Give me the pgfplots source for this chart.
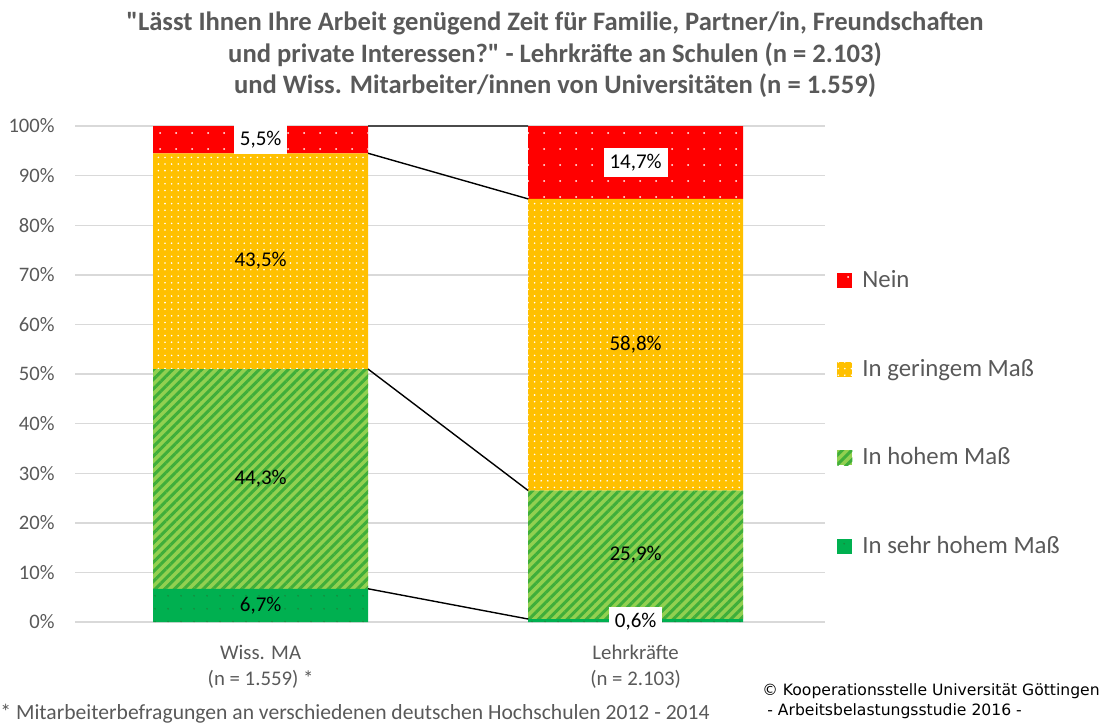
\documentclass[border=0pt]{standalone}
\usepackage{pgfplots}
\pgfplotsset{compat=1.18}
\usepackage{fontspec}
\setmainfont{Carlito}[Ligatures=TeXOff]
\newfontfamily\djv{DejaVu Sans}
\usetikzlibrary{patterns.meta}

\definecolor{txtgray}{HTML}{595959}
\definecolor{gridgray}{HTML}{D9D9D9}
\definecolor{cred}{HTML}{FF0000}
\definecolor{corange}{HTML}{FFC000}
\definecolor{clgreen}{HTML}{92D050}
\definecolor{cstripe}{HTML}{3FAE3A}
\definecolor{cgreen}{HTML}{00B050}
\definecolor{cdot}{HTML}{178A3C}

\pgfplotsset{frame/.style={scale only axis, width=375pt, height=248pt,
  xmin=-0.495, xmax=1.505, ymin=0, ymax=100, clip=false}}

\begin{document}
\begin{tikzpicture}
\useasboundingbox (-37.5pt,-51.5pt) rectangle (518pt,311pt);
\begin{axis}[
  frame,
  ybar stacked, bar width=0.573,
  axis line style={draw=none},
  major tick length=0pt,
  ymajorgrids, grid style={gridgray, line width=0.7pt},
  xtick={0,1},
  xticklabels={{Wiss. MA\\(n = 1.559) *},{Lehrkräfte\\(n = 2.103)}},
  xticklabel style={align=center, inner sep=0pt, yshift=-11.5pt,
    font=\fontsize{10.4}{13}\selectfont, text=txtgray},
  ytick={0,10,...,100},
  /pgf/number format/assume math mode=true,
  yticklabel={\pgfmathprintnumber{\tick}\%},
  yticklabel style={inner sep=0pt, xshift=-10pt,
    font=\fontsize{10.3}{12}\selectfont, text=txtgray},
  legend style={at={(1,0.42)}, anchor=west, xshift=6pt, draw=none, fill=none,
    inner xsep=0pt, row sep=30.2pt,
    font=\fontsize{12.4}{14}\selectfont, text=txtgray,
    nodes={inner xsep=5pt}},
  legend cell align=left, reverse legend,
  legend image code/.code={\draw[#1, draw=none] (0pt,-3.75pt) rectangle (7.5pt,3.75pt);},
]
% In sehr hohem Mass
\addplot[fill=cgreen, draw=none, pattern color=cdot,
  postaction={pattern={Dots[distance=6.5pt, radius=0.5pt]}}]
  coordinates {(0,6.7) (1,0.6)};
% In hohem Mass
\addplot[fill=clgreen, draw=none, pattern color=cstripe,
  postaction={pattern={Lines[angle=45, distance=3.4pt, line width=1.5pt]}}]
  coordinates {(0,44.3) (1,25.9)};
% In geringem Mass
\addplot[fill=corange, draw=none, pattern color=white,
  postaction={pattern={Dots[distance=3.3pt, radius=0.45pt]}}]
  coordinates {(0,43.5) (1,58.8)};
% Nein
\addplot[fill=cred, draw=none, pattern color=white,
  postaction={pattern={Dots[distance=8pt, radius=0.5pt]}}]
  coordinates {(0,5.5) (1,14.7)};
\legend{In sehr hohem Maß, In hohem Maß, In geringem Maß, Nein}
\end{axis}

% second axis on the same frame: connector lines and value labels
\begin{axis}[frame, hide axis]
\addplot[black, line width=0.7pt, mark=none, unbounded coords=jump]
  coordinates {(0.2865,100) (0.7135,100) (nan,nan)
               (0.2865,94.5) (0.7135,85.3) (nan,nan)
               (0.2865,51.0) (0.7135,26.5) (nan,nan)
               (0.2865,6.7) (0.7135,0.6)};
% labels without box
\addplot[draw=none, mark=none, only marks,
  nodes near coords, point meta=explicit symbolic,
  nodes near coords style={anchor=center, font=\fontsize{10.5}{12}\selectfont, text=black}]
  coordinates {(0,3.35)[6,7\%] (0,28.85)[44,3\%] (0,72.75)[43,5\%]
               (1,13.55)[25,9\%] (1,55.9)[58,8\%]};
% labels with white box
\addplot[draw=none, mark=none, only marks,
  nodes near coords, point meta=explicit symbolic,
  nodes near coords style={anchor=center, fill=white, inner xsep=3pt, inner ysep=3pt,
    font=\fontsize{10.5}{12}\selectfont, text=black}]
  coordinates {(0,97.25)[5,5\%] (1,92.65)[14,7\%] (1,0.1)[0,6\%]};
\end{axis}

\node[align=center, font=\bfseries\fontsize{13.3}{15.75}\selectfont, text=txtgray]
  at (240pt,283.5pt)
  {"Lässt Ihnen Ihre Arbeit genügend Zeit für Familie, Partner/in, Freundschaften\\
   und private Interessen?" - Lehrkräfte an Schulen (n = 2.103)\\
   und Wiss. Mitarbeiter/innen von Universitäten (n = 1.559)};
\node[anchor=west, inner sep=0pt, font=\fontsize{10.8}{12}\selectfont, text=txtgray]
  at (-37.5pt,-46pt)
  {* Mitarbeiterbefragungen an verschiedenen deutschen Hochschulen 2012 - 2014};
\node[anchor=west, inner sep=0pt, font=\djv\fontsize{7.8}{9}\selectfont]
  at (343.5pt,-34.5pt) {© Kooperationsstelle Universität Göttingen};
\node[anchor=west, inner sep=0pt, font=\djv\fontsize{7.8}{9}\selectfont]
  at (343.5pt,-44.5pt) {\ - Arbeitsbelastungsstudie 2016 -};
\end{tikzpicture}
\end{document}
